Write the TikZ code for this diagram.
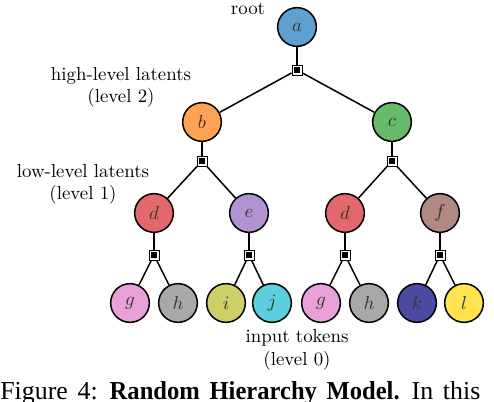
\documentclass[tikz,border=0pt]{standalone}
\usepackage{fontspec}
\newfontfamily\capfont{Liberation Serif}[BoldFeatures={FakeStretch=0.95}]
\definecolor{cola}{RGB}{96,160,208}
\definecolor{colb}{RGB}{255,163,82}
\definecolor{colc}{RGB}{102,187,106}
\definecolor{cold}{RGB}{227,104,110}
\definecolor{cole}{RGB}{177,147,210}
\definecolor{colf}{RGB}{176,138,130}
\definecolor{colg}{RGB}{232,160,214}
\definecolor{colh}{RGB}{168,168,168}
\definecolor{coli}{RGB}{207,207,106}
\definecolor{colj}{RGB}{92,207,222}
\definecolor{colk}{RGB}{74,74,162}
\definecolor{coll}{RGB}{255,228,80}
\tikzset{
    var/.style={circle, draw, line width=0.8pt, minimum size=20.5pt, inner sep=0pt, text=black!80},
    fac/.style={rectangle, draw, line width=0.5pt, minimum size=5.3pt, inner sep=0pt, fill=white,
        path picture={\fill[black] ([shift={(1.1pt,1.1pt)}]path picture bounding box.south west)
            rectangle ([shift={(-1.1pt,-1.1pt)}]path picture bounding box.north east);}},
    edge/.style={line width=0.8pt},
    lbl/.style={anchor=base, inner sep=0pt}
}
\begin{document}
\begin{tikzpicture}[x=0.53pt, y=-0.53pt]
    \useasboundingbox (0,0) rectangle (494,402);
    \node[var, fill=cola] (a) at (297,27) {$a$};
    \node[fac] (fa) at (297,70) {};
    \node[var, fill=colb] (b) at (202,122) {$b$};
    \node[var, fill=colc] (c) at (392,122) {$c$};
    \node[fac] (fb) at (202,161) {};
    \node[fac] (fc) at (392,161) {};
    \node[var, fill=cold] (d1) at (154,213) {$d$};
    \node[var, fill=cole] (e) at (249,213) {$e$};
    \node[var, fill=cold] (d2) at (345,213) {$d$};
    \node[var, fill=colf] (f) at (440,213) {$f$};
    \node[fac] (fd1) at (154,255) {};
    \node[fac] (fe) at (249,255) {};
    \node[fac] (fd2) at (345,255) {};
    \node[fac] (ff) at (440,255) {};
    \node[var, fill=colg] (g1) at (130,303) {$g$};
    \node[var, fill=colh] (h1) at (178,303) {$h$};
    \node[var, fill=coli] (i) at (226,303) {$i$};
    \node[var, fill=colj] (j) at (272,303) {$j$};
    \node[var, fill=colg] (g2) at (321,303) {$g$};
    \node[var, fill=colh] (h2) at (369,303) {$h$};
    \node[var, fill=colk] (k) at (417,303) {$k$};
    \node[var, fill=coll] (l) at (464,303) {$l$};

    \draw[edge] (a) -- (fa);
    \draw[edge] (fa) -- (b);
    \draw[edge] (fa) -- (c);
    \draw[edge] (b) -- (fb);
    \draw[edge] (c) -- (fc);
    \draw[edge] (fb) -- (d1);
    \draw[edge] (fb) -- (e);
    \draw[edge] (fc) -- (d2);
    \draw[edge] (fc) -- (f);
    \draw[edge] (d1) -- (fd1);
    \draw[edge] (e) -- (fe);
    \draw[edge] (d2) -- (fd2);
    \draw[edge] (f) -- (ff);
    \draw[edge] (fd1) -- (g1);
    \draw[edge] (fd1) -- (h1);
    \draw[edge] (fe) -- (i);
    \draw[edge] (fe) -- (j);
    \draw[edge] (fd2) -- (g2);
    \draw[edge] (fd2) -- (h2);
    \draw[edge] (ff) -- (k);
    \draw[edge] (ff) -- (l);

    \node[lbl] (root) at (248,15) {root};
    \node[lbl] (hl) at (121,81) {high-level latents};
    \node[lbl] (hllv) at (121,103) {(level 2)};
    \node[lbl] (ll) at (83,178) {low-level latents};
    \node[lbl] (lllv) at (83,200) {(level 1)};
    \node[lbl] (tok) at (297,343) {input tokens};
    \node[lbl] (toklv) at (297,366) {(level 0)};
    \node[anchor=base west, inner sep=0pt] (cap) at (0,400)
        {\capfont\fontsize{13.7}{16}\selectfont\spaceskip=5.2pt Figure 4: \textbf{Random Hierarchy Model.} In this};
\end{tikzpicture}
\end{document}
